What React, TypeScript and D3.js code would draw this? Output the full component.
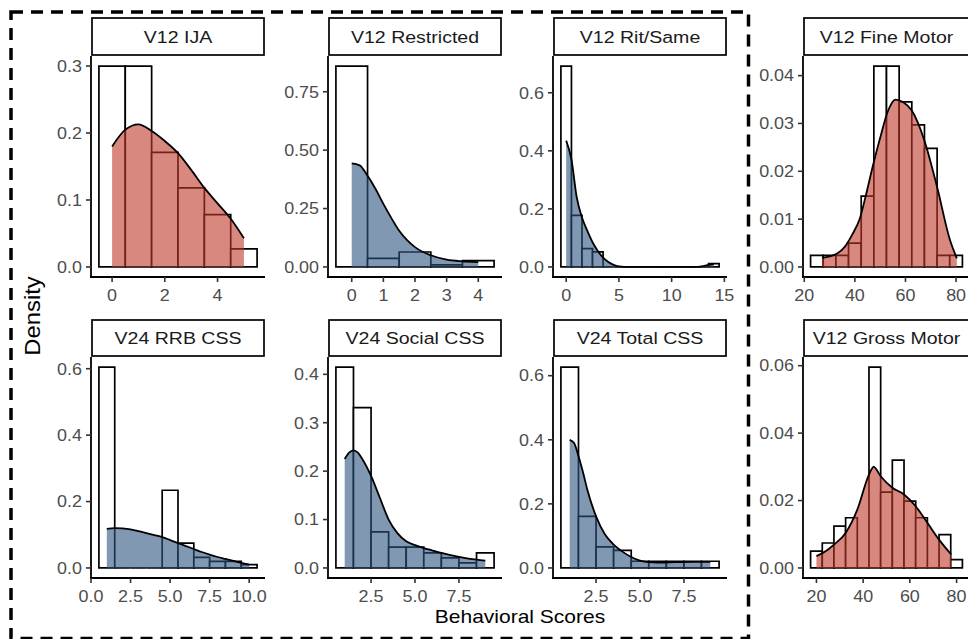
import React from 'react';
import * as d3 from 'd3';

const W = 968;
const H = 639;

// ---------- DATA ----------
// V12 IJA
const ijaCenters = [0, 1, 2, 3, 4, 5];
const ijaHeights = [0.3, 0.3, 0.171, 0.118, 0.078, 0.027];
const ijaDensX = [0, 0.5, 1, 1.5, 2, 2.5, 3, 3.5, 4, 4.5, 5];
const ijaDensY = [0.18, 0.205, 0.213, 0.203, 0.188, 0.17, 0.145, 0.118, 0.095, 0.072, 0.043];
const ijaXTicks = [0, 2, 4];
const ijaYTicks = [0, 0.1, 0.2, 0.3];

// V12 Restricted
const resCenters = [0, 1, 2, 3, 4];
const resHeights = [0.86, 0.037, 0.064, 0.009, 0.027];
const resDensX = [0, 0.25, 0.5, 0.75, 1, 1.25, 1.5, 1.75, 2, 2.5, 3, 3.5, 4];
const resDensY = [0.443, 0.435, 0.39, 0.335, 0.27, 0.21, 0.155, 0.115, 0.085, 0.05, 0.031, 0.024, 0.021];
const resXTicks = [0, 1, 2, 3, 4];
const resYTicks = [0, 0.25, 0.5, 0.75];

// V12 Rit/Same
const ritCenters = [0, 1, 2, 3, 4, 5, 6, 7, 8, 9, 10, 11, 12, 13, 14];
const ritHeights = [0.692, 0.178, 0.063, 0.052, 0, 0, 0, 0, 0, 0, 0, 0, 0, 0, 0.0115];
const ritDensX = [0, 0.5, 1, 1.5, 2, 2.5, 3, 3.5, 4, 4.5, 5, 6, 12, 13, 13.5, 14];
const ritDensY = [0.435, 0.37, 0.24, 0.17, 0.125, 0.085, 0.055, 0.032, 0.017, 0.007, 0.002, 0, 0, 0.003, 0.007, 0.01];
const ritXTicks = [0, 5, 10, 15];
const ritYTicks = [0, 0.2, 0.4, 0.6];

// V12 Fine Motor
const fineCenters = [25, 30, 35, 40, 45, 50, 55, 60, 65, 70, 75, 80];
const fineHeights = [0.0024, 0.0024, 0.0024, 0.005, 0.0148, 0.042, 0.042, 0.0345, 0.0297, 0.0248, 0.0024, 0.0024];
const fineDensX = [27, 30, 33, 36, 39, 42, 44.5, 47, 50, 53, 56, 59, 62.5, 67.5, 72.5, 77.5, 80.3];
const fineDensY = [0.0019, 0.0022, 0.0028, 0.0042, 0.0068, 0.0102, 0.0153, 0.0209, 0.027, 0.0325, 0.035, 0.0345, 0.0327, 0.0264, 0.0167, 0.0058, 0.0018];
const fineXTicks = [20, 40, 60, 80];
const fineYTicks = [0, 0.01, 0.02, 0.03, 0.04];

// V24 RRB CSS
const rrbCenters = [1, 2, 3, 4, 5, 6, 7, 8, 9, 10];
const rrbHeights = [0.605, 0, 0, 0, 0.234, 0.075, 0.032, 0.02, 0.02, 0.01];
const rrbDensX = [1, 1.5, 2, 2.5, 3, 3.5, 4, 4.5, 5, 5.5, 6, 6.5, 7, 7.5, 8, 8.5, 9, 9.5, 10];
const rrbDensY = [0.118, 0.12, 0.119, 0.116, 0.111, 0.105, 0.099, 0.093, 0.084, 0.075, 0.066, 0.057, 0.048, 0.04, 0.033, 0.027, 0.021, 0.015, 0.01];
const rrbXTicks = [0, 2.5, 5, 7.5, 10];
const rrbYTicks = [0, 0.2, 0.4, 0.6];

// V24 Social CSS
const socCenters = [1, 2, 3, 4, 5, 6, 7, 8, 9];
const socHeights = [0.415, 0.331, 0.0745, 0.043, 0.043, 0.031, 0.0207, 0.0103, 0.031];
const socDensX = [1, 1.25, 1.5, 1.75, 2, 2.5, 3, 3.5, 4, 4.5, 5, 5.5, 6, 6.5, 7.5, 8.5, 9];
const socDensY = [0.225, 0.238, 0.243, 0.238, 0.225, 0.19, 0.145, 0.1, 0.072, 0.055, 0.047, 0.041, 0.036, 0.031, 0.023, 0.017, 0.015];
const socXTicks = [2.5, 5, 7.5];
const socYTicks = [0, 0.1, 0.2, 0.3, 0.4];

// V24 Total CSS
const totCenters = [1, 2, 3, 4, 5, 6, 7, 8, 9];
const totHeights = [0.627, 0.161, 0.066, 0.055, 0.021, 0.021, 0.021, 0.021, 0.021];
const totDensX = [1, 1.25, 1.5, 1.75, 2, 2.5, 3, 3.5, 4, 4.5, 5, 5.5, 6, 7, 8, 9];
const totDensY = [0.4, 0.39, 0.349, 0.3, 0.245, 0.161, 0.105, 0.073, 0.051, 0.034, 0.023, 0.018, 0.017, 0.018, 0.019, 0.019];
const totXTicks = [2.5, 5, 7.5];
const totYTicks = [0, 0.2, 0.4, 0.6];

// V12 Gross Motor
const grossCenters = [20, 25, 30, 35, 40, 45, 50, 55, 60, 65, 70, 75, 80];
const grossHeights = [0.005, 0.0074, 0.0124, 0.0149, 0, 0.0596, 0.0225, 0.032, 0.0198, 0.0149, 0, 0.0099, 0.0025];
const grossDensX = [20, 25, 27.5, 32.5, 37.5, 42.5, 44.5, 47.5, 52.5, 57.5, 62.5, 67.5, 72.5, 77.7];
const grossDensY = [0.0035, 0.0055, 0.0069, 0.0104, 0.0173, 0.0277, 0.03, 0.0272, 0.0238, 0.0218, 0.0183, 0.0134, 0.0084, 0.004];
const grossXTicks = [20, 40, 60, 80];
const grossYTicks = [0, 0.02, 0.04, 0.06];

// ---------- STYLE / LAYOUT ----------
const RED = '#C0392B';
const BLUE = '#2B537F';
const FONT = '"Liberation Sans", Arial, Helvetica, sans-serif';

const COLS = [[91, 265], [328, 502], [553, 727], [803, 970]];
const ROWS = [[56, 277], [357, 578]];
const STRIPS = [[18, 55], [320, 356]];

const panels = [
  { title: 'V12 IJA', c: ijaCenters, h: ijaHeights, w: 1, dx: ijaDensX, dy: ijaDensY, xt: ijaXTicks, yt: ijaYTicks, xdec: 0, ydec: 1, color: RED, col: 0, row: 0 },
  { title: 'V12 Restricted', c: resCenters, h: resHeights, w: 1, dx: resDensX, dy: resDensY, xt: resXTicks, yt: resYTicks, xdec: 0, ydec: 2, color: BLUE, col: 1, row: 0 },
  { title: 'V12 Rit/Same', c: ritCenters, h: ritHeights, w: 1, dx: ritDensX, dy: ritDensY, xt: ritXTicks, yt: ritYTicks, xdec: 0, ydec: 1, color: BLUE, col: 2, row: 0 },
  { title: 'V12 Fine Motor', c: fineCenters, h: fineHeights, w: 5, dx: fineDensX, dy: fineDensY, xt: fineXTicks, yt: fineYTicks, xdec: 0, ydec: 2, color: RED, col: 3, row: 0 },
  { title: 'V24 RRB CSS', c: rrbCenters, h: rrbHeights, w: 1, dx: rrbDensX, dy: rrbDensY, xt: rrbXTicks, yt: rrbYTicks, xdec: 1, ydec: 1, color: BLUE, col: 0, row: 1 },
  { title: 'V24 Social CSS', c: socCenters, h: socHeights, w: 1, dx: socDensX, dy: socDensY, xt: socXTicks, yt: socYTicks, xdec: 1, ydec: 1, color: BLUE, col: 1, row: 1 },
  { title: 'V24 Total CSS', c: totCenters, h: totHeights, w: 1, dx: totDensX, dy: totDensY, xt: totXTicks, yt: totYTicks, xdec: 1, ydec: 1, color: BLUE, col: 2, row: 1 },
  { title: 'V12 Gross Motor', c: grossCenters, h: grossHeights, w: 5, dx: grossDensX, dy: grossDensY, xt: grossXTicks, yt: grossYTicks, xdec: 0, ydec: 2, color: RED, col: 3, row: 1 },
];

function Txt({ x, y, sx = 1, anchor = 'middle', size, fill, children }: any) {
  return (
    <text
      transform={`translate(${x},${y}) scale(${sx},1)`}
      textAnchor={anchor}
      fontSize={size}
      fill={fill}
      fontFamily={FONT}
    >
      {children}
    </text>
  );
}

function Panel({ p }: any) {
  const [l, r] = COLS[p.col];
  const [t, b] = ROWS[p.row];
  const [st, sb] = STRIPS[p.row];
  const lo = p.c[0] - p.w / 2;
  const hi = p.c[p.c.length - 1] + p.w / 2;
  const pad = (hi - lo) * 0.05;
  const x = d3.scaleLinear().domain([lo - pad, hi + pad]).range([l, r]);
  const ymax = Math.max(d3.max(p.h) as number, d3.max(p.dy) as number);
  const y = d3.scaleLinear().domain([-0.05 * ymax, 1.05 * ymax]).range([b, t]);
  const pts: [number, number][] = p.dx.map((v: number, i: number) => [v, p.dy[i]]);
  const area = d3.area<[number, number]>()
    .x(d => x(d[0]))
    .y0(y(0))
    .y1(d => y(d[1]))
    .curve(d3.curveMonotoneX);
  const line = d3.line<[number, number]>()
    .x(d => x(d[0]))
    .y(d => y(d[1]))
    .curve(d3.curveMonotoneX);
  const y0 = y(0);
  return (
    <g>
      {p.c.map((c: number, i: number) => {
        const x0 = x(c - p.w / 2);
        const x1 = x(c + p.w / 2);
        const y1 = y(p.h[i]);
        return (
          <path key={i} d={`M${x0},${y0}V${y1}H${x1}V${y0}Z`} fill="#ffffff" stroke="#000" strokeWidth={1.7} strokeLinejoin="miter" />
        );
      })}
      <path d={area(pts) as string} fill={p.color} fillOpacity={0.6} stroke="none" />
      <path d={line(pts) as string} fill="none" stroke="#000" strokeWidth={1.8} />
      <line x1={l} x2={l} y1={t} y2={b + 1} stroke="#000" strokeWidth={1.8} />
      <line x1={l - 1} x2={r} y1={b} y2={b} stroke="#000" strokeWidth={1.8} />
      {p.yt.map((v: number, i: number) => (
        <g key={'y' + i}>
          <line x1={l - 5} x2={l} y1={y(v)} y2={y(v)} stroke="#333" strokeWidth={1.6} />
          <Txt x={l - 9} y={y(v) + 5.8} sx={1.12} anchor="end" size={16} fill="#4d4d4d">{v.toFixed(p.ydec)}</Txt>
        </g>
      ))}
      {p.xt.map((v: number, i: number) => (
        <g key={'x' + i}>
          <line x1={x(v)} x2={x(v)} y1={b} y2={b + 5} stroke="#333" strokeWidth={1.6} />
          <Txt x={x(v)} y={b + 24} sx={1.12} size={16} fill="#4d4d4d">{v.toFixed(p.xdec)}</Txt>
        </g>
      ))}
      <rect x={l + 1} y={st} width={r - l - 2} height={sb - st} fill="#fff" stroke="#000" strokeWidth={1.7} />
      <Txt x={(l + r) / 2} y={(st + sb) / 2 + 6.2} sx={1.15} size={17} fill="#1a1a1a">{p.title}</Txt>
    </g>
  );
}

export default function App() {
  return (
    <svg width={W} height={H} viewBox={`0 0 ${W} ${H}`} style={{ position: 'absolute', left: 0, top: 0, background: '#fff' }}>
      <rect x={0} y={0} width={W} height={H} fill="#fff" />
      {panels.map((p, i) => <Panel key={i} p={p} />)}
      <text
        transform="translate(40,316) rotate(-90) scale(1.06,1)"
        textAnchor="middle"
        fontSize={22.5}
        fontFamily={FONT}
        fill="#000"
      >
        Density
      </text>
      <Txt x={520} y={623} sx={1.2} size={17.5} fill="#000">Behavioral Scores</Txt>
      <rect x={11} y={12} width={737.5} height={626.5} fill="none" stroke="#000" strokeWidth={3.5} strokeDasharray="12 8" />
    </svg>
  );
}
